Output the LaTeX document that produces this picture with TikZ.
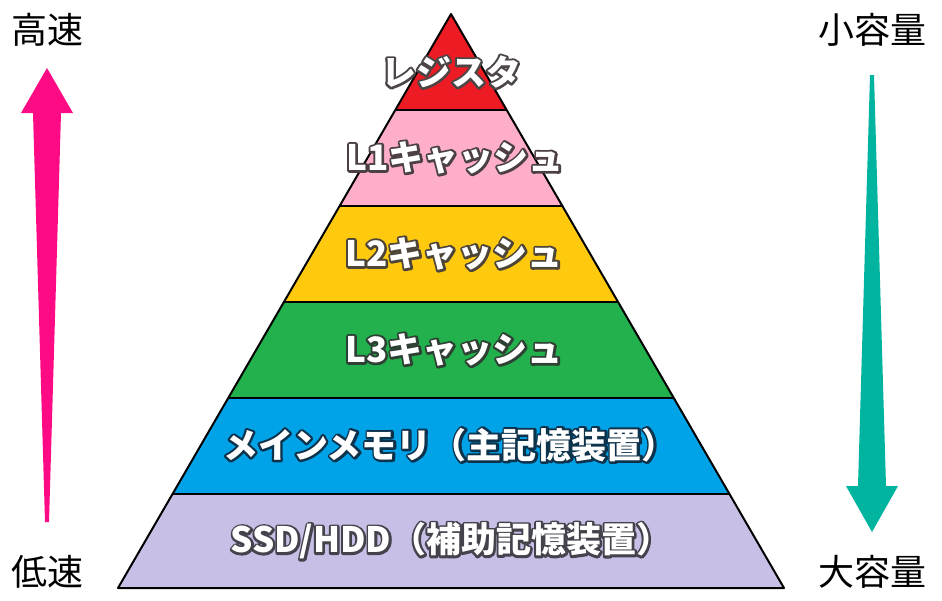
\documentclass[tikz,border=0pt]{standalone}
\usepackage{fontspec}
\usetikzlibrary{calc}
\newfontfamily\cjk{Noto Sans CJK JP}
\definecolor{cReg}{HTML}{ED1C24}
\definecolor{cLone}{HTML}{FFAEC9}
\definecolor{cLtwo}{HTML}{FFC90E}
\definecolor{cLthree}{HTML}{22B14C}
\definecolor{cMain}{HTML}{00A2E8}
\definecolor{cSsd}{HTML}{C8BFE7}
\definecolor{cUp}{HTML}{FF0A85}
\definecolor{cDown}{HTML}{00B4A0}
\tikzset{
  layer/.style={draw=black, line width=2pt, line join=round},
  lbl/.style={font=\cjk\bfseries\fontsize{35}{35}\selectfont, inner sep=0pt, text=white},
  side/.style={font=\cjk\fontsize{36}{36}\selectfont, inner sep=0pt, text=black},
}
% #1 = stroke colour as "r g b", #2 = text
\newcommand{\outl}[2]{\leavevmode\rlap{\special{pdf:literal direct 1 Tr 4.5 w 1 j #1 RG}#2\special{pdf:literal direct 0 Tr 1 w}}#2}
\begin{document}
\begin{tikzpicture}[x=1pt,y=-1pt]
\useasboundingbox (0,0) rectangle (942,600);
\fill[white] (0,0) rectangle (942,600);
\coordinate (apex) at (451,14);
\coordinate (bl) at (118,588);
\coordinate (br) at (784,588);
\foreach \n/\t in {a/0.16725,b/0.33449,c/0.50174,d/0.66899,e/0.83624}{
  \coordinate (l\n) at ($(apex)!\t!(bl)$);
  \coordinate (r\n) at ($(apex)!\t!(br)$);
}
\fill[cReg] (apex) -- (la) -- (ra) -- cycle;
\fill[cLone] (la) -- (lb) -- (rb) -- (ra) -- cycle;
\fill[cLtwo] (lb) -- (lc) -- (rc) -- (rb) -- cycle;
\fill[cLthree] (lc) -- (ld) -- (rd) -- (rc) -- cycle;
\fill[cMain] (ld) -- (le) -- (re) -- (rd) -- cycle;
\fill[cSsd] (le) -- (bl) -- (br) -- (re) -- cycle;
\foreach \n in {a,b,c,d,e}{ \draw[layer] (l\n) -- (r\n); }
\draw[layer] (apex) -- (bl) -- (br) -- cycle;
% labels
\node[lbl] (t1) at (451,72) {\outl{0.30 0.27 0.27}{レジスタ}};
\node[lbl] (t2) at (455,158) {\outl{0.30 0.25 0.27}{L1キャッシュ}};
\node[lbl] (t3) at (454,254) {\outl{0.30 0.27 0.22}{L2キャッシュ}};
\node[lbl] (t4) at (454,350) {\outl{0.18 0.25 0.20}{L3キャッシュ}};
\node[lbl] (t5) at (450,445) {\outl{0.05 0.20 0.30}{メインメモリ（主記憶装置）}};
\node[lbl] (t6) at (451,541) {\outl{0.27 0.26 0.30}{SSD/HDD（補助記憶装置）}};
% arrows
\fill[cUp] (47,68) -- (73,113) -- (61,113) -- (49,522) -- (45,522) -- (33,113) -- (21,113) -- cycle;
\fill[cDown] (872,532) -- (898,486) -- (886,486) -- (874,75) -- (870,75) -- (858,486) -- (846,486) -- cycle;
\node[side] (hi) at (48,30) {高速};
\node[side] (lo) at (48,572) {低速};
\node[side] (sm) at (872,30) {小容量};
\node[side] (lg) at (872,572) {大容量};
\end{tikzpicture}
\end{document}
